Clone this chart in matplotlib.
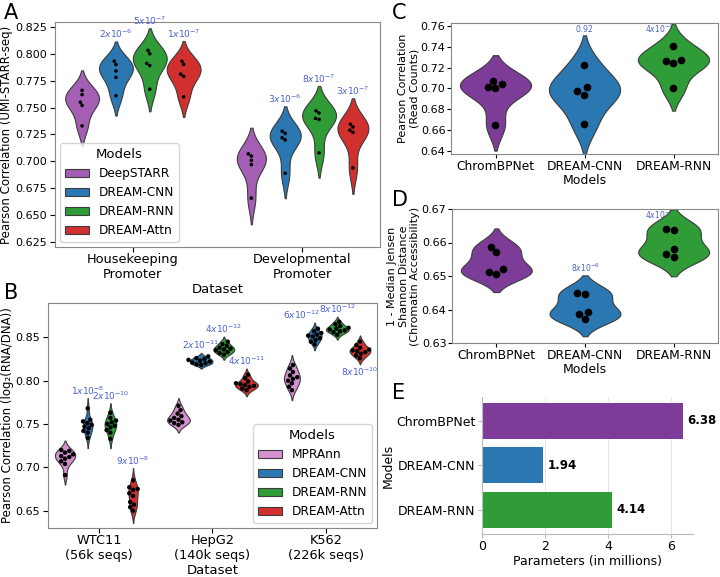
import matplotlib
matplotlib.use('Agg')
import matplotlib.pyplot as plt
from matplotlib.patches import Patch
import numpy as np
import pandas as pd
import seaborn as sns


# Panel A: Drosophila STARR-seq, 5 replicates per model
A_DATASETS = ['Housekeeping\nPromoter', 'Developmental\nPromoter']
A_MODELS = ['DeepSTARR', 'DREAM-CNN', 'DREAM-RNN', 'DREAM-Attn']
hk_deepstarr = [0.766, 0.762, 0.755, 0.752, 0.733]
hk_cnn = [0.793, 0.790, 0.784, 0.778, 0.761]
hk_rnn = [0.803, 0.800, 0.791, 0.789, 0.767]
hk_attn = [0.793, 0.790, 0.781, 0.779, 0.760]
dev_deepstarr = [0.707, 0.705, 0.701, 0.697, 0.666]
dev_cnn = [0.728, 0.726, 0.722, 0.720, 0.689]
dev_rnn = [0.747, 0.745, 0.740, 0.739, 0.708]
dev_attn = [0.7345, 0.732, 0.729, 0.727, 0.694]
A_PVALS = [
    ['', '2x10^{-6}', '5x10^{-7}', '1x10^{-7}'],
    ['', '3x10^{-6}', '8x10^{-7}', '3x10^{-7}'],
]

# Panel B: human MPRA, 10 folds per model
B_DATASETS = ['WTC11\n(56k seqs)', 'HepG2\n(140k seqs)', 'K562\n(226k seqs)']
B_MODELS = ['MPRAnn', 'DREAM-CNN', 'DREAM-RNN', 'DREAM-Attn']
wtc_mpra = [0.720, 0.719, 0.717, 0.715, 0.713, 0.712, 0.710, 0.707, 0.704, 0.691]
wtc_cnn = [0.768, 0.755, 0.753, 0.751, 0.749, 0.747, 0.745, 0.742, 0.740, 0.734]
wtc_rnn = [0.763, 0.757, 0.754, 0.752, 0.750, 0.748, 0.746, 0.743, 0.740, 0.733]
wtc_attn = [0.685, 0.677, 0.675, 0.674, 0.670, 0.667, 0.660, 0.657, 0.654, 0.650]
hep_mpra = [0.771, 0.766, 0.762, 0.759, 0.757, 0.755, 0.754, 0.752, 0.751, 0.749]
hep_cnn = [0.828, 0.826, 0.825, 0.824, 0.823, 0.822, 0.821, 0.820, 0.819, 0.818]
hep_rnn = [0.845, 0.842, 0.840, 0.838, 0.837, 0.836, 0.835, 0.833, 0.832, 0.830]
hep_attn = [0.807, 0.803, 0.799, 0.797, 0.796, 0.795, 0.794, 0.793, 0.791, 0.789]
k562_mpra = [0.818, 0.814, 0.810, 0.806, 0.804, 0.802, 0.800, 0.797, 0.793, 0.789]
k562_cnn = [0.860, 0.857, 0.855, 0.853, 0.852, 0.851, 0.849, 0.847, 0.845, 0.842]
k562_rnn = [0.868, 0.865, 0.863, 0.861, 0.860, 0.859, 0.858, 0.857, 0.856, 0.853]
k562_attn = [0.845, 0.841, 0.838, 0.836, 0.835, 0.834, 0.833, 0.831, 0.829, 0.826]
B_PVALS = [
    ['', '1x10^{-8}', '2x10^{-10}', '9x10^{-8}'],
    ['', '2x10^{-11}', '4x10^{-12}', '4x10^{-11}'],
    ['', '6x10^{-12}', '8x10^{-12}', '8x10^{-10}'],
]
# where each label sits: 'c' above, 'l' above and nudged left, 'b' below
B_PVAL_LUGAR = [
    ['c', 'c', 'c', 'c'],
    ['c', 'c', 'c', 'c'],
    ['c', 'l', 'c', 'b'],
]

# Panels C-E: ChromBPNet comparison
CDE_MODELS = ['ChromBPNet', 'DREAM-CNN', 'DREAM-RNN']
c_chrombpnet = [0.707, 0.704, 0.701, 0.700, 0.665]
c_cnn = [0.722, 0.701, 0.697, 0.694, 0.666]
c_rnn = [0.741, 0.727, 0.726, 0.724, 0.700]
C_PVALS = ['', '0.92', '4x10^{-4}']
d_chrombpnet = [0.6588, 0.6571, 0.6520, 0.6513, 0.6506]
d_cnn = [0.6450, 0.6445, 0.6393, 0.6386, 0.6372]
d_rnn = [0.6641, 0.6637, 0.6580, 0.6566, 0.6557]
D_PVALS = ['', '8x10^{-6}', '4x10^{-5}']
e_params = [6.38, 1.94, 4.14]

COR_A = ['#a45eb4', '#2a77b2', '#2f9c37', '#d2302f']
COR_B = ['#d690d0', '#2a77b2', '#2f9c37', '#d2302f']
COR_CDE = ['#7d3c98', '#2a77b2', '#2f9c37']
PVAL = '#4a62d0'
BORDA = '#3c3c3c'
EIXO = '#888888'

plt.rcParams['font.family'] = 'DejaVu Sans'
plt.rcParams['font.size'] = 9

W, H = 720, 577
fig = plt.figure(figsize=(W / 100, H / 100), dpi=100)


def caixa(esq, dir, topo, base):
    return fig.add_axes([esq / W, 1 - base / H, (dir - esq) / W, (base - topo) / H])


def topo_violino(vals):
    v = np.asarray(vals)
    bw = v.std(ddof=1) * len(v) ** (-1 / 5)
    return v.max() + 2 * bw, v.min() - 2 * bw


def longo(grupos, categorias, modelos):
    linhas = []
    for cat, series in zip(categorias, grupos):
        for mod, vals in zip(modelos, series):
            for v in vals:
                linhas.append((cat, mod, v))
    return pd.DataFrame(linhas, columns=['cat', 'model', 'value'])


def estilo_eixo(ax, xs, ys, xpad, ypad, comp):
    for s in ax.spines.values():
        s.set_color(EIXO)
    ax.tick_params(axis='x', labelsize=xs, pad=xpad, length=comp)
    ax.tick_params(axis='y', labelsize=ys, pad=ypad, length=comp)


def violinos(ax, df, categorias, modelos, cores, ponto):
    sns.violinplot(data=df, x='cat', y='value', hue='model', order=categorias,
                   hue_order=modelos, palette=cores, inner=None, saturation=1,
                   linewidth=0.8, linecolor=BORDA, legend=False, ax=ax)
    sns.swarmplot(data=df, x='cat', y='value', hue='model', order=categorias,
                  hue_order=modelos, palette=['black'] * len(modelos), dodge=True,
                  size=ponto, legend=False, ax=ax)


def pvalores(ax, grupos, rotulos, lugar=None, tam=6.5):
    n = len(grupos[0])
    passo = 0.8 / n
    for i, series in enumerate(grupos):
        for j, vals in enumerate(series):
            txt = rotulos[i][j]
            if not txt:
                continue
            x = i + (j - (n - 1) / 2) * passo
            sup, inf = topo_violino(vals)
            onde = lugar[i][j] if lugar is not None else 'c'
            if onde == 'b':
                ax.annotate(f'${txt}$', (x, inf), xytext=(0, -1), textcoords='offset points',
                            ha='center', va='top', color=PVAL, fontsize=tam)
            elif onde == 'l':
                ax.annotate(f'${txt}$', (x, sup), xytext=(4, 1), textcoords='offset points',
                            ha='right', va='bottom', color=PVAL, fontsize=tam)
            else:
                ax.annotate(f'${txt}$', (x, sup), xytext=(0, 1), textcoords='offset points',
                            ha='center', va='bottom', color=PVAL, fontsize=tam)


def legenda(ax, cores, modelos, loc):
    ax.legend(handles=[Patch(facecolor=c, edgecolor=BORDA, linewidth=0.8, label=m)
                       for c, m in zip(cores, modelos)],
              title='Models', loc=loc, fontsize=8.7, title_fontsize=9.5, borderaxespad=0.4)


# ---- A ----
axA = caixa(55, 380, 22, 247)
grupos_a = [[hk_deepstarr, hk_cnn, hk_rnn, hk_attn], [dev_deepstarr, dev_cnn, dev_rnn, dev_attn]]
violinos(axA, longo(grupos_a, A_DATASETS, A_MODELS), A_DATASETS, A_MODELS, COR_A, 2.6)
pvalores(axA, grupos_a, A_PVALS)
axA.set_xlim(-0.46, 1.46)
axA.set_ylim(0.6206, 0.8294)
axA.set_yticks(np.arange(0.625, 0.8251, 0.025))
axA.set_xlabel('Dataset', fontsize=9.5, labelpad=1)
axA.set_ylabel('Pearson Correlation (UMI-STARR-seq)', fontsize=8.5, labelpad=1)
legenda(axA, COR_A, A_MODELS, 'lower left')
estilo_eixo(axA, 9.3, 8, 1, 2.5, 3.5)

# ---- B ----
axB = caixa(48, 377, 303, 528)
grupos_b = [[wtc_mpra, wtc_cnn, wtc_rnn, wtc_attn],
            [hep_mpra, hep_cnn, hep_rnn, hep_attn],
            [k562_mpra, k562_cnn, k562_rnn, k562_attn]]
violinos(axB, longo(grupos_b, B_DATASETS, B_MODELS), B_DATASETS, B_MODELS, COR_B, 3.2)
pvalores(axB, grupos_b, B_PVALS, B_PVAL_LUGAR)
axB.set_xlim(-0.45, 2.45)
axB.set_ylim(0.630, 0.8896)
axB.set_yticks([0.65, 0.70, 0.75, 0.80, 0.85])
axB.set_xlabel('Dataset', fontsize=9.5, labelpad=1)
axB.set_ylabel('Pearson Correlation (log₂(RNA/DNA))', fontsize=8.5, labelpad=1)
legenda(axB, COR_B, B_MODELS, 'lower right')
estilo_eixo(axB, 9.3, 8, 1, 2.5, 3.5)


def painel_modelos(ax, series, cores, rotulos, ylabel, ylim):
    df = pd.DataFrame([(m, v) for m, vals in zip(CDE_MODELS, series) for v in vals],
                      columns=['model', 'value'])
    sns.violinplot(data=df, x='model', y='value', hue='model', order=CDE_MODELS,
                   hue_order=CDE_MODELS, palette=cores, inner=None, saturation=1,
                   linewidth=0.8, linecolor=BORDA, legend=False, ax=ax)
    sns.swarmplot(data=df, x='model', y='value', order=CDE_MODELS, color='black',
                  size=5.5, ax=ax)
    ax.set_ylim(*ylim)
    margem = 0.045 * (ylim[1] - ylim[0])
    for j, vals in enumerate(series):
        if not rotulos[j]:
            continue
        sup, _ = topo_violino(vals)
        if sup + margem < ylim[1]:
            ax.annotate(f'${rotulos[j]}$', (j, sup), xytext=(0, 1), textcoords='offset points',
                        ha='center', va='bottom', color=PVAL, fontsize=5.5)
        else:
            # no room above the violin: tuck the label beside its tip, under the violin
            ax.text(j, ylim[1] - margem, f'${rotulos[j]}$', ha='right', va='center',
                    color=PVAL, fontsize=5.5, zorder=0)
    ax.set_xlim(-0.5, 2.5)
    ax.set_xlabel('Models', fontsize=9, labelpad=1)
    ax.set_ylabel(ylabel, fontsize=8, labelpad=1)
    estilo_eixo(ax, 8.8, 8, 1, 1, 3)


# ---- C ----
axC = caixa(451, 718, 22.7, 154)
painel_modelos(axC, [c_chrombpnet, c_cnn, c_rnn], COR_CDE, C_PVALS,
               'Pearson Correlation\n(Read Counts)', (0.6368, 0.7632))
axC.set_yticks(np.arange(0.64, 0.7601, 0.02))

# ---- D ----
axD = caixa(452, 718, 209, 343)
painel_modelos(axD, [d_chrombpnet, d_cnn, d_rnn], COR_CDE, D_PVALS,
               '1 - Median Jensen\nShannon Distance\n(Chromatin Accessibility)', (0.63, 0.67))
axD.set_yticks(np.arange(0.63, 0.6701, 0.01))

# ---- E ----
axE = caixa(482, 693, 397, 534)
barras = axE.barh(CDE_MODELS, e_params, color=COR_CDE, height=0.8)
axE.bar_label(barras, fmt='%.2f', padding=3, fontweight='bold', fontsize=8.5)
axE.set_xlim(0, 6.7)
axE.set_ylim(2.54, -0.53)
axE.set_xticks([0, 2, 4, 6])
axE.grid(axis='x', color='#e5e5e5', linewidth=0.8)
axE.set_axisbelow(True)
axE.spines['top'].set_visible(False)
axE.spines['right'].set_visible(False)
axE.spines['left'].set_color('#bbbbbb')
axE.spines['bottom'].set_color('#bbbbbb')
axE.tick_params(colors='#bbbbbb', labelcolor='black', labelsize=9, length=3, pad=1.5)
axE.set_xlabel('Parameters (in millions)', fontsize=9, labelpad=1)
axE.set_ylabel('Models', fontsize=9, labelpad=1)

for letra, x, y in [('A', 4, 3), ('B', 4, 283), ('C', 392, 3), ('D', 392, 190), ('E', 392, 383)]:
    fig.text(x / W, 1 - y / H, letra, fontsize=15, va='top', ha='left')

fig.savefig('out.png', dpi=100)
